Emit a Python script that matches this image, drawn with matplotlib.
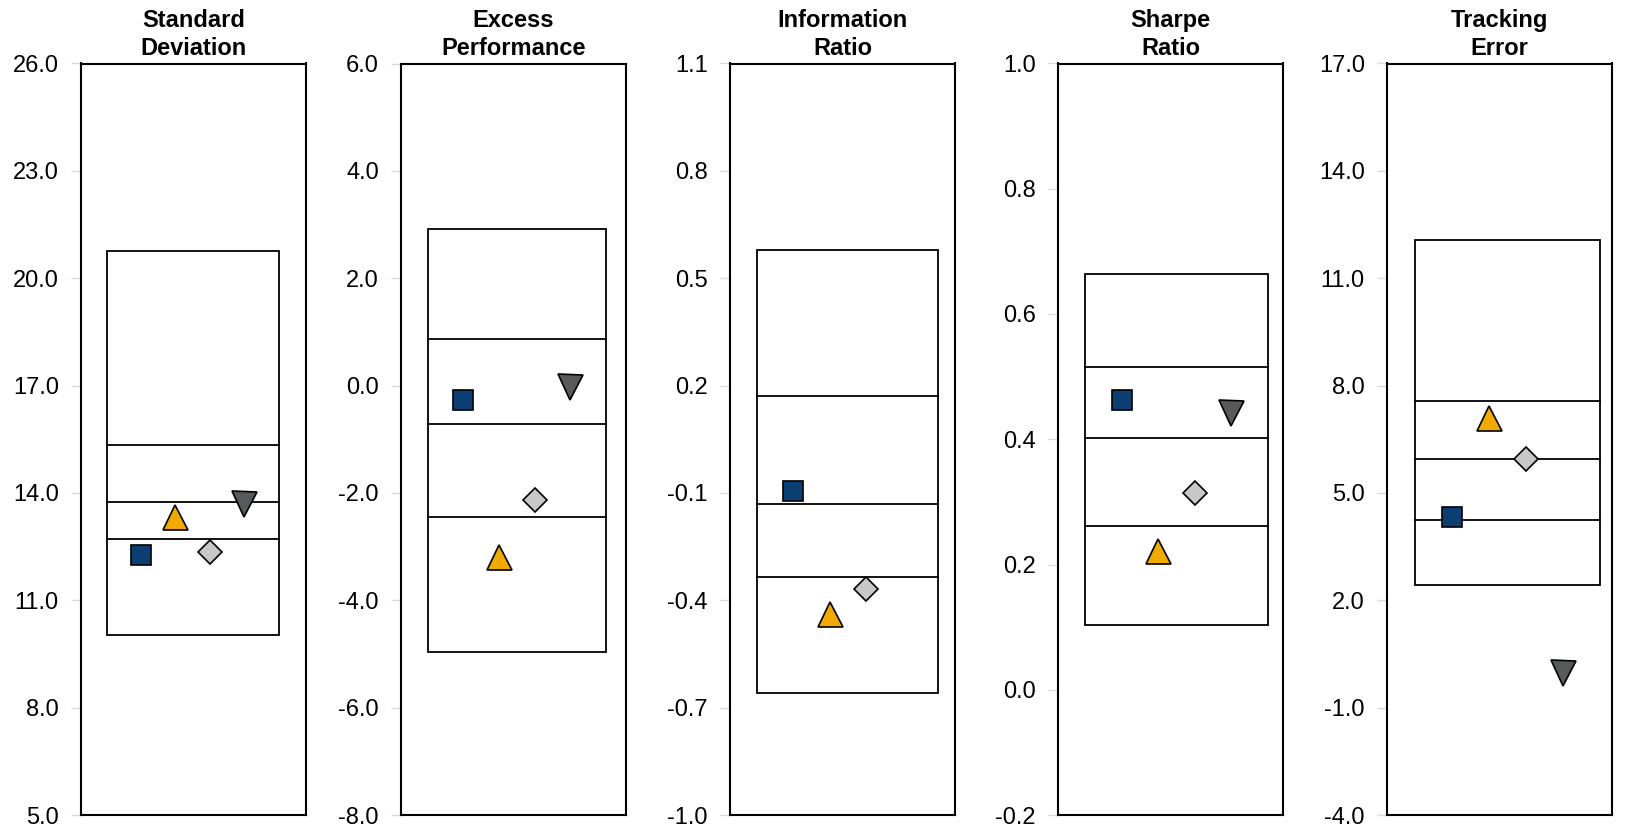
import numpy as np
import matplotlib.pyplot as plt

plt.rcParams['font.family'] = ['Liberation Sans', 'DejaVu Sans']

# panel titles and axis ranges
titles = ['Standard\nDeviation', 'Excess\nPerformance', 'Information\nRatio',
          'Sharpe\nRatio', 'Tracking\nError']
y_min = [5.0, -8.0, -1.0, -0.2, -4.0]
y_max = [26.0, 6.0, 1.1, 1.0, 17.0]
y_step = [3.0, 2.0, 0.3, 0.2, 3.0]

# percentile box: 5th, 25th, median, 75th, 95th (top to bottom)
box_top = [20.76, 2.92, 0.579, 0.664, 12.08]
box_q1 = [15.33, 0.86, 0.172, 0.515, 7.58]
box_med = [13.75, -0.71, -0.130, 0.402, 5.95]
box_q3 = [12.71, -2.45, -0.334, 0.262, 4.23]
box_bot = [10.03, -4.96, -0.660, 0.103, 2.43]

# series values per panel (None = not shown)
fund = [12.27, -0.26, -0.095, 0.462, 4.32]
bench_a = [13.32, -3.19, -0.439, 0.222, 7.08]
bench_b = [12.36, -2.14, -0.369, 0.314, 5.95]
bench_c = [13.68, -0.03, None, 0.442, -0.02]

series = [
    (fund, 's', '#0B3F73', 15),
    (bench_a, '^', '#F0AA00', 18),
    (bench_b, 'D', '#C8C8C8', 12.5),
    (bench_c, 'v', '#58595B', 18),
]

fig = plt.figure(figsize=(16.32, 8.27), dpi=100)
W, H = 1632, 827
lefts = [81, 401, 730, 1058, 1387]
width = 225
top, bottom = 63.5, 815
x_right = [5.8, 5.56, 5.46, 5.41, 5.32]

for i in range(5):
    ax = fig.add_axes([lefts[i] / W, 1 - bottom / H, width / W, (bottom - top) / H])
    ax.set_xlim(-0.75, x_right[i])
    ax.set_ylim(y_min[i], y_max[i])

    # floating box with quartile lines
    ax.add_patch(plt.Rectangle((0, box_bot[i]), 5, box_top[i] - box_bot[i],
                               fill=False, ec='black', lw=1.3, zorder=2))
    for v in (box_q1[i], box_med[i], box_q3[i]):
        ax.plot([0, 5], [v, v], color='black', lw=1.3, zorder=2)

    for k, (vals, mk, col, ms) in enumerate(series):
        if vals[i] is None:
            continue
        ax.plot(k + 1, vals[i], marker=mk, color=col, ms=ms,
                mec='black', mew=1.2, ls='none', zorder=3)

    ticks = np.arange(y_min[i], y_max[i] + y_step[i] / 2, y_step[i])
    ax.set_yticks(ticks)
    ax.set_yticklabels(['{:.1f}'.format(t + 0.0) for t in ticks], fontsize=17)
    ax.tick_params(axis='y', length=7, width=1, color='#D9D9D9', pad=9)
    ax.set_xticks([])
    for s in ax.spines.values():
        s.set_linewidth(1.5)
    ax.set_title(titles[i], fontsize=17, fontweight='bold', pad=6, linespacing=1.3)

fig.savefig('out.png', dpi=100)
